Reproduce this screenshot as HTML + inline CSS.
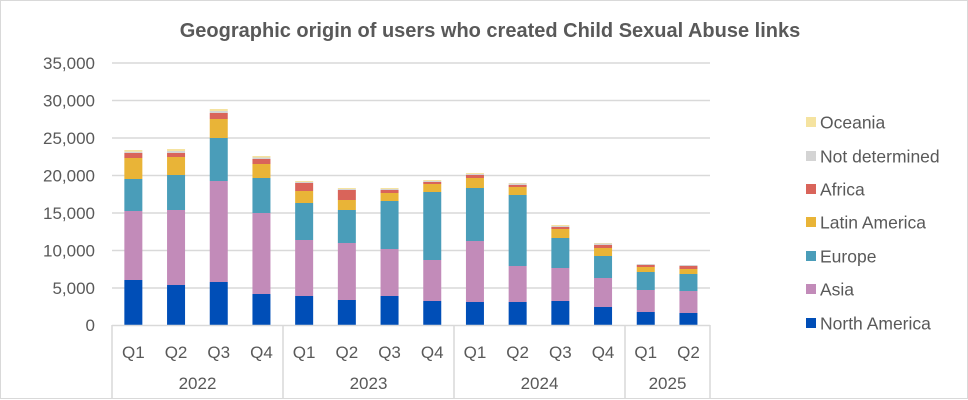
<!DOCTYPE html>
<html><head><meta charset="utf-8"><style>
html,body{margin:0;padding:0;background:#fff;}
svg{display:block;font-family:"Liberation Sans",sans-serif;}
</style></head><body>
<svg id="c" width="968" height="400" viewBox="0 0 968 400" xmlns="http://www.w3.org/2000/svg">
<rect x="0.5" y="0.5" width="967" height="398" fill="#fff" stroke="#d9d9d9"/>
<text x="490" y="37" text-anchor="middle" font-size="20" font-weight="bold" fill="#595959">Geographic origin of users who created Child Sexual Abuse links</text>
<g stroke="#d9d9d9" stroke-width="1.5">
<line x1="112" x2="710" y1="63" y2="63"/><line x1="112" x2="710" y1="100.5" y2="100.5"/><line x1="112" x2="710" y1="138" y2="138"/><line x1="112" x2="710" y1="175.5" y2="175.5"/><line x1="112" x2="710" y1="213" y2="213"/><line x1="112" x2="710" y1="250.5" y2="250.5"/><line x1="112" x2="710" y1="288" y2="288"/>
</g>
<g font-size="17" fill="#595959" text-anchor="end">
<text x="95" y="69">35,000</text><text x="95" y="106.5">30,000</text><text x="95" y="144">25,000</text><text x="95" y="181.5">20,000</text><text x="95" y="219">15,000</text><text x="95" y="256.5">10,000</text><text x="95" y="294">5,000</text><text x="95" y="331">0</text>
</g>
<g id="bars"></g>
<g stroke="#d9d9d9" stroke-width="1.5">
<line x1="112" x2="710" y1="325.5" y2="325.5"/>
<line x1="112" x2="112" y1="325" y2="398"/><line x1="283" x2="283" y1="325" y2="398"/><line x1="454" x2="454" y1="325" y2="398"/><line x1="625" x2="625" y1="325" y2="398"/><line x1="710" x2="710" y1="325" y2="398"/>
</g>
<g font-size="17" fill="#595959" text-anchor="middle" id="ql"></g>
<g font-size="17" fill="#595959" text-anchor="middle">
<text x="197.5" y="389">2022</text><text x="368.5" y="389">2023</text><text x="539.5" y="389">2024</text><text x="667.5" y="389">2025</text>
</g>
<g font-size="17.5" fill="#595959">
<rect x="806" y="117" width="10" height="10" fill="#F5E3A0"/><text x="820" y="128.5">Oceania</text>
<rect x="806" y="151" width="10" height="10" fill="#D4D4D4"/><text x="820" y="162.5">Not determined</text>
<rect x="806" y="184" width="10" height="10" fill="#D9645A"/><text x="820" y="195.5">Africa</text>
<rect x="806" y="217" width="10" height="10" fill="#E9B437"/><text x="820" y="228.5">Latin America</text>
<rect x="806" y="251" width="10" height="10" fill="#4A9DB9"/><text x="820" y="262.5">Europe</text>
<rect x="806" y="284" width="10" height="10" fill="#C28BB9"/><text x="820" y="295.5">Asia</text>
<rect x="806" y="318" width="10" height="10" fill="#004EB7"/><text x="820" y="329.5">North America</text>
</g>
</svg>
<script>
var cols=["#004EB7","#C28BB9","#4A9DB9","#E9B437","#D9645A","#D4D4D4","#F5E3A0"];
var d=[[280,211,179,158,153,151.7,150],[285,210,175,157,153,151,149],[282,181,138,119,113,111,109],[294,213,178,164,159,157.5,156],[296,240,203,191,183,182,181],[300,243,210,200,190,189,188],[296,249,201,193,190,189,188],[301,260,192,184,182,181,180],[302,241,188,178,175,174,173],[302,266,195,187,185,183.5,183],[301,268,238,229,227,226,225],[307,278,256,248,245,243.5,243],[312,290,272,267,265,264,264],[313,291,274,269,266,265,265]];
var g=document.getElementById("bars"),ql=document.getElementById("ql"),ns="http://www.w3.org/2000/svg";
for(var i=0;i<14;i++){var cx=112+42.7*(i+0.5),prev=325;
for(var j=0;j<7;j++){var r=document.createElementNS(ns,"rect");r.setAttribute("x",cx-9);r.setAttribute("width",18);r.setAttribute("y",d[i][j]);r.setAttribute("height",Math.max(0,prev-d[i][j]));r.setAttribute("fill",cols[j]);g.appendChild(r);prev=d[i][j];}
var t=document.createElementNS(ns,"text");t.setAttribute("x",cx);t.setAttribute("y",358);t.textContent="Q"+(i%4+1);ql.appendChild(t);}
</script>
</body></html>
